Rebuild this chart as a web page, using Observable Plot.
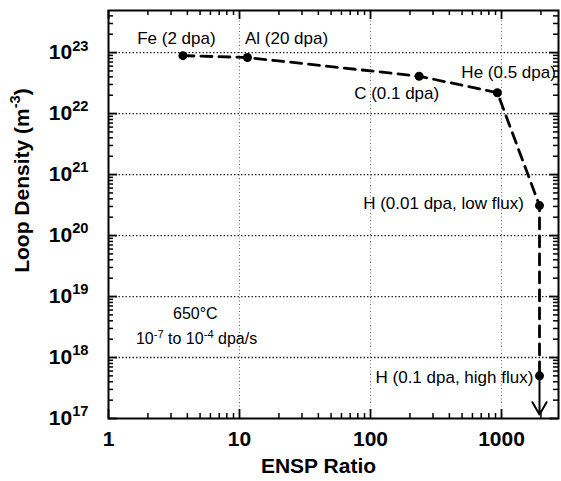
<!DOCTYPE html>
<html><head><meta charset="utf-8">
<script src="https://cdn.jsdelivr.net/npm/d3@7"></script>
<script src="https://cdn.jsdelivr.net/npm/@observablehq/plot@0.6"></script>
<style>body{margin:0;background:#fff} #chart{position:relative;width:561px;height:481px} #chart svg{display:block}</style>
</head><body><div id="chart"></div>
<script>
// Data points (ENSP ratio vs loop density)
const ions = ["Fe", "Al", "C", "He", "H low flux", "H high flux"];
const enspRatio = [3.7, 11.5, 235, 930, 1950, 1950];
const loopDensity = [8.9e22, 8.3e22, 4.1e22, 2.2e22, 3.1e20, 5e17];

// Point labels
const labelText = ["Fe (2 dpa)", "Al (20 dpa)", "He (0.5 dpa)", "C (0.1 dpa)", "H (0.01 dpa, low flux)", "H (0.1 dpa, high flux)"];
const labelX = [3.3, 11, 2600, 75, 1480, 1750];
const labelY = [1.7e23, 1.7e23, 4.7e22, 2.1e22, 3.3e20, 4.7e17];
const labelAnchor = ["middle", "start", "end", "start", "end", "end"];

// Condition annotation
const noteText = ["650°C", "10^{-7} to 10^{-4} dpa/s"];
const noteX = [4.6, 4.7];
const noteY = [5.2e18, 2.0e18];

// Axes
const xDomain = [1, 2723];
const yDomain = [1e17, 4.9e23];
const xMajor = [1, 10, 100, 1000];
const yMajor = [1e17, 1e18, 1e19, 1e20, 1e21, 1e22, 1e23];
const xLabel = "ENSP Ratio";
const yLabel = "Loop Density (m^{-3})";

const points = ions.map((d, i) => ({ion: d, x: enspRatio[i], y: loopDensity[i]}));
const labels = labelText.map((t, i) => ({t, x: labelX[i], y: labelY[i], a: labelAnchor[i]}));
const notes = noteText.map((t, i) => ({t, x: noteX[i], y: noteY[i]}));

const xMinor = [];
for (const dec of [1, 10, 100, 1000]) for (let k = 2; k <= 9; k++) { const v = k * dec; if (v <= xDomain[1]) xMinor.push(v); }
const yMinor = [];
for (let e = 17; e <= 23; e++) for (let k = 2; k <= 9; k++) { const v = k * Math.pow(10, e); if (v <= yDomain[1]) yMinor.push(v); }

const W = 561, H = 481, mL = 108, mR = 3, mT = 10, mB = 63;
const fw = W - mL - mR, fh = H - mT - mB;
const font = "Liberation Sans, Arial, Helvetica, sans-serif";

// helpers: data value a given number of pixels in from an edge of a log domain
const lx0 = Math.log10(xDomain[0]), lx1 = Math.log10(xDomain[1]);
const ly0 = Math.log10(yDomain[0]), ly1 = Math.log10(yDomain[1]);
const xIn = (px, fromRight) => Math.pow(10, fromRight ? lx1 - px / fw * (lx1 - lx0) : lx0 + px / fw * (lx1 - lx0));
const yIn = (px, fromTop) => Math.pow(10, fromTop ? ly1 - px / fh * (ly1 - ly0) : ly0 + px / fh * (ly1 - ly0));

const last = points[points.length - 1];
const tickStyle = (w) => ({stroke: "black", strokeWidth: w});

const svg = Plot.plot({
  width: W, height: H,
  marginLeft: mL, marginRight: mR, marginTop: mT, marginBottom: mB,
  style: {fontFamily: font, background: "white", color: "black"},
  x: {type: "log", domain: xDomain},
  y: {type: "log", domain: yDomain},
  marks: [
    // gridlines
    Plot.ruleY(yMajor.slice(1), {y: d => d, stroke: "black", strokeOpacity: 0.85, strokeWidth: 1.3, strokeDasharray: "1.5,2"}),
    Plot.ruleX(xMajor.slice(1), {x: d => d, stroke: "black", strokeOpacity: 0.6, strokeWidth: 1, strokeDasharray: "1,2.5"}),
    // axes labels
    Plot.axisX({ticks: xMajor, tickSize: 0, tickPadding: 13, tickFormat: d => String(d), fontSize: 21, fontWeight: "bold", label: null}),
    Plot.axisY({ticks: yMajor, tickSize: 0, tickPadding: 20, tickFormat: d => "10^{" + Math.round(Math.log10(d)) + "}", fontSize: 21, fontWeight: "bold", label: null}),
    // data
    Plot.line(points, {x: "x", y: "y", stroke: "black", strokeWidth: 2.8, strokeDasharray: "11,7"}),
    Plot.arrow([last], {x: "x", y1: "y", y2: () => yDomain[0], stroke: "black", strokeWidth: 2, headLength: 12, insetEnd: 4}),
    Plot.dot(points, {x: "x", y: "y", r: 4.5, fill: "black"}),
    // labels
    Plot.text(labels.filter(d => d.a === "middle"), {x: "x", y: "y", text: "t", textAnchor: "middle", fontSize: 17, fill: "black"}),
    Plot.text(labels.filter(d => d.a === "start"), {x: "x", y: "y", text: "t", textAnchor: "start", fontSize: 17, fill: "black"}),
    Plot.text(labels.filter(d => d.a === "end"), {x: "x", y: "y", text: "t", textAnchor: "end", fontSize: 17, fill: "black"}),
    Plot.text(notes, {x: "x", y: "y", text: "t", fontSize: 16, fill: "black"}),
    Plot.text([xLabel], {frameAnchor: "bottom", text: d => d, textAnchor: "middle", lineAnchor: "middle", dy: 48, dx: -15, fontSize: 21, fontWeight: "bold", fill: "black"}),
    Plot.text([yLabel], {frameAnchor: "left", text: d => d, textAnchor: "middle", lineAnchor: "middle", rotate: -90, dx: -86, dy: -34, fontSize: 21, fontWeight: "bold", fill: "black"}),
    Plot.frame({stroke: "black", strokeWidth: 2})
  ]
});

// Inward ticks on all four sides, drawn by a second plot with identical scales laid over the first
const tickLayer = Plot.plot({
  width: W, height: H,
  marginLeft: mL, marginRight: mR, marginTop: mT, marginBottom: mB,
  style: {background: "transparent", position: "absolute", left: "0px", top: "0px"},
  x: {type: "log", domain: xDomain, axis: null},
  y: {type: "log", domain: yDomain, axis: null},
  marks: [
    Plot.ruleX(xMinor, {x: d => d, y1: yDomain[0], y2: yIn(5, false), ...tickStyle(1.5)}),
    Plot.ruleX(xMinor, {x: d => d, y1: yDomain[1], y2: yIn(5, true), ...tickStyle(1.5)}),
    Plot.ruleX(xMajor, {x: d => d, y1: yDomain[0], y2: yIn(9, false), ...tickStyle(1.8)}),
    Plot.ruleX(xMajor, {x: d => d, y1: yDomain[1], y2: yIn(9, true), ...tickStyle(1.8)}),
    Plot.ruleY(yMinor, {y: d => d, x1: xDomain[0], x2: xIn(5, false), ...tickStyle(1.5)}),
    Plot.ruleY(yMinor, {y: d => d, x1: xDomain[1], x2: xIn(5, true), ...tickStyle(1.5)}),
    Plot.ruleY(yMajor, {y: d => d, x1: xDomain[0], x2: xIn(9, false), ...tickStyle(1.8)}),
    Plot.ruleY(yMajor, {y: d => d, x1: xDomain[1], x2: xIn(9, true), ...tickStyle(1.8)})
  ]
});

// Render "^{...}" as superscript tspans
svg.querySelectorAll("text").forEach(t => {
  const s = t.textContent;
  if (!s.includes("^{")) return;
  const parts = s.split(/(\^\{[^}]*\})/);
  while (t.firstChild) t.removeChild(t.firstChild);
  let fs = parseFloat(t.getAttribute("font-size"));
  if (!fs) { let p = t.parentNode; while (p && p.getAttribute && !p.getAttribute("font-size")) p = p.parentNode; fs = p && p.getAttribute ? parseFloat(p.getAttribute("font-size")) : 16; }
  if (!fs) fs = 16;
  let raised = false;
  parts.forEach(p => {
    if (!p) return;
    const ts = document.createElementNS("http://www.w3.org/2000/svg", "tspan");
    if (p.startsWith("^{")) {
      ts.textContent = p.slice(2, -1);
      ts.setAttribute("font-size", (fs * 0.7).toFixed(1));
      ts.setAttribute("dy", (-fs * 0.42).toFixed(1));
      raised = true;
    } else {
      ts.textContent = p;
      if (raised) { ts.setAttribute("dy", (fs * 0.42).toFixed(1)); raised = false; }
    }
    t.appendChild(ts);
  });
});

const chart = document.getElementById("chart");
chart.appendChild(svg);
chart.appendChild(tickLayer);
</script>
</body></html>
